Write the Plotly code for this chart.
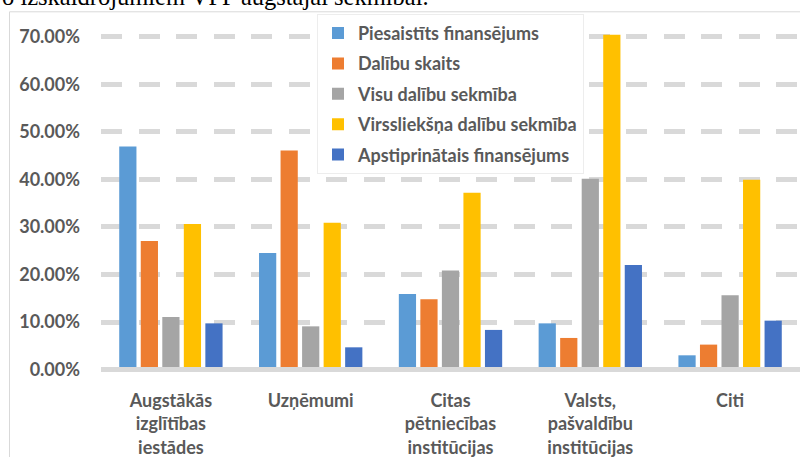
import plotly.graph_objects as go

categories = ["Augstākās<br>izglītības<br>iestādes", "Uzņēmumi",
              "Citas<br>pētniecības<br>institūcijas",
              "Valsts,<br>pašvaldību<br>institūcijas", "Citi"]

series_names = ["Piesaistīts finansējums", "Dalību skaits", "Visu dalību sekmība",
                "Virssliekšņa dalību sekmība", "Apstiprinātais finansējums"]

piesaistits = [0.4694, 0.2453, 0.1591, 0.0973, 0.0301]
dalibu_skaits = [0.2705, 0.4610, 0.1478, 0.0666, 0.0526]
visu_sekmiba = [0.1108, 0.0910, 0.2087, 0.4015, 0.1562]
virsslieksna = [0.3063, 0.3090, 0.3721, 0.7042, 0.3994]
apstiprinatais = [0.0973, 0.0469, 0.0835, 0.2201, 0.1030]

colors = ["#5B9BD5", "#ED7D31", "#A5A5A5", "#FFC000", "#4472C4"]
values = [piesaistits, dalibu_skaits, visu_sekmiba, virsslieksna, apstiprinatais]

tick_vals = [0, 0.1, 0.2, 0.3, 0.4, 0.5, 0.6, 0.7]
tick_text = ["0.00%", "10.00%", "20.00%", "30.00%", "40.00%", "50.00%", "60.00%", "70.00%"]

title_text = "o izskaidrojumiem VPP augstajai sekmībai."

W, H = 800, 457
ML, MR, MT, MB = 101, 0, 13.2, 84.6
plot_w = W - ML - MR
plot_h = H - MT - MB

fig = go.Figure()
for name, vals, col in zip(series_names, values, colors):
    fig.add_trace(go.Bar(
        x=categories, y=vals, name=name, legendgroup=name,
        marker=dict(color=col, line=dict(width=0)),
    ))

fig.update_layout(
    width=W, height=H,
    margin=dict(l=ML, r=MR, t=MT, b=MB, pad=0, autoexpand=False),
    paper_bgcolor="white", plot_bgcolor="white",
    barmode="group", bargap=0.23, bargroupgap=0.2,
    font=dict(family="Lato", color="#595959"),
    showlegend=True,
    legend=dict(
        x=(317 - ML) / plot_w, xanchor="left",
        y=1 - (14 - MT) / plot_h, yanchor="top",
        bgcolor="white", bordercolor="#EDEDED", borderwidth=1,
        font=dict(family="Lato", size=18, color="#595959", weight="bold"),
        traceorder="grouped", tracegroupgap=4,
        itemwidth=30,
    ),
    xaxis=dict(
        automargin=False,
        showgrid=False, showline=False, ticks="",
        tickfont=dict(family="Lato", size=18, color="#595959", weight="bold"),
        ticklabelstandoff=16,
    ),
    yaxis=dict(
        automargin=False,
        range=[-0.005, 0.75],
        tickvals=tick_vals, ticktext=tick_text,
        tickfont=dict(family="Lato", size=18, color="#595959", weight="bold"),
        showgrid=True, gridcolor="#D9D9D9", gridwidth=4.5, griddash="21px,16.5px",
        zeroline=False, showline=False, ticks="",
        ticklabelstandoff=20,
    ),
    shapes=[
        dict(type="line", xref="paper", yref="y", x0=0, x1=1, y0=0, y1=0,
             line=dict(color="#D9D9D9", width=5), layer="above"),
        dict(type="line", xref="paper", yref="paper",
             x0=-(ML - 9.5) / plot_w, x1=1,
             y0=1 + (MT - 12) / plot_h, y1=1 + (MT - 12) / plot_h,
             line=dict(color="#D9D9D9", width=1)),
        dict(type="line", xref="paper", yref="paper",
             x0=-(ML - 9.5) / plot_w, x1=-(ML - 9.5) / plot_w,
             y0=1 + (MT - 12) / plot_h, y1=-(MB + 5) / plot_h,
             line=dict(color="#D9D9D9", width=1)),
    ],
    annotations=[
        dict(text=title_text, xref="paper", yref="paper",
             x=-ML / plot_w, xanchor="left",
             y=1 + (MT - 12.5) / plot_h, yanchor="bottom",
             showarrow=False,
             font=dict(family="Liberation Serif", size=24.5, color="black")),
    ],
)

fig.write_html("out.html", config={"displayModeBar": False},
               post_script="document.body.style.margin='0';")
